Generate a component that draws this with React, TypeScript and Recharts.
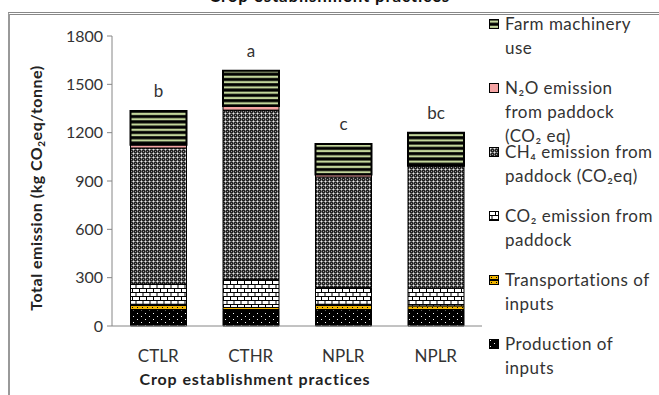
import { BarChart, Bar, XAxis, YAxis, LabelList } from 'recharts'

const CATEGORIES = ['CTLR', 'CTHR', 'NPLR', 'NPLR']
const PRODUCTION = [100, 95, 100, 100]
const TRANSPORT = [35, 20, 35, 25]
const CO2_PADDOCK = [125, 175, 105, 110]
const CH4_PADDOCK = [845, 1050, 685, 760]
const N2O_PADDOCK = [20, 25, 15, 0]
const MACHINERY = [210, 220, 190, 205]
const LETTERS = ['b', 'a', 'c', 'bc']
const Y_TICKS = [0, 300, 600, 900, 1200, 1500, 1800]

const data = CATEGORIES.map((c, i) => ({
  name: c,
  production: PRODUCTION[i],
  transport: TRANSPORT[i],
  co2: CO2_PADDOCK[i],
  ch4: CH4_PADDOCK[i],
  n2o: N2O_PADDOCK[i],
  machinery: MACHINERY[i],
  sig: LETTERS[i],
}))

// legend, top to bottom
const LEGEND = [
  { fill: 'url(#patFarm)', text: 'Farm machinery\nuse' },
  { fill: '#F4A3A3', text: 'N₂O emission\nfrom paddock\n(CO₂ eq)' },
  { fill: 'url(#patCh4)', text: 'CH₄ emission from\npaddock (CO₂eq)' },
  { fill: 'url(#patCo2)', text: 'CO₂ emission from\npaddock' },
  { fill: 'url(#patTrans)', text: 'Transportations of\ninputs' },
  { fill: 'url(#patProd)', text: 'Production of\ninputs' },
]

const FONT = 'Lato, "Open Sans", sans-serif'

const Patterns = () => (
  <svg width={0} height={0} style={{ position: 'absolute' }}>
    <defs>
      <pattern id="patProd" width={8} height={6} patternUnits="userSpaceOnUse">
        <rect width={8} height={6} fill="#000" />
        <rect x={1} y={1} width={1} height={1} fill="#fff" />
        <rect x={5} y={4} width={1} height={1} fill="#fff" />
      </pattern>
      <pattern id="patTrans" width={5} height={5} patternUnits="userSpaceOnUse">
        <rect width={5} height={5} fill="#000" />
        <rect x={0} y={1} width={5} height={3} fill="#F0B400" />
        <rect x={2} y={2} width={1} height={1} fill="#000" />
      </pattern>
      <pattern id="patCo2" width={14} height={8} patternUnits="userSpaceOnUse">
        <rect width={14} height={8} fill="#000" />
        <rect x={0} y={1} width={6} height={3} fill="#fff" />
        <rect x={7} y={1} width={6} height={3} fill="#fff" />
        <rect x={0} y={5} width={2.5} height={3} fill="#fff" />
        <rect x={3.5} y={5} width={6} height={3} fill="#fff" />
        <rect x={10.5} y={5} width={3.5} height={3} fill="#fff" />
      </pattern>
      <pattern id="patCh4" width={4} height={4} patternUnits="userSpaceOnUse">
        <rect width={4} height={4} fill="#222" />
        <rect x={1} y={0} width={1} height={3} fill="#9a9a9a" />
        <rect x={0} y={1} width={3} height={1} fill="#9a9a9a" />
        <rect x={1} y={1} width={1} height={1} fill="#ececec" />
        <rect x={3} y={3} width={1} height={1} fill="#9a9a9a" />
        <rect x={3} y={1} width={1} height={1} fill="#555" />
        <rect x={1} y={3} width={1} height={1} fill="#555" />
      </pattern>
      <pattern id="patFarm" width={4} height={5.3} patternUnits="userSpaceOnUse">
        <rect width={4} height={5.3} fill="#000" />
        <rect x={0} y={1.5} width={4} height={2.2} fill="#C3D69B" />
      </pattern>
    </defs>
  </svg>
)

const YLabel = () => {
  const cx = 38
  const cy = 188
  return (
    <text x={cx} y={cy} transform={`rotate(-90 ${cx} ${cy})`} textAnchor="middle"
      dominantBaseline="middle" fontFamily={FONT} fontSize={16} fontWeight={700} fill="#222"
      letterSpacing={0.5}>
      Total emission (kg CO<tspan fontSize={10} dy={4}>2</tspan><tspan dy={-4}>eq/tonne)</tspan>
    </text>
  )
}

export default function App() {
  return (
    <div style={{ position: 'fixed', left: 0, top: 0, width: 659, height: 395, overflow: 'hidden',
      background: '#fff', fontFamily: FONT }}>
      <Patterns />
      {/* clipped caption from the figure above */}
      <div style={{ position: 'absolute', top: -15, left: 0, width: 659, textAlign: 'center',
        fontSize: 17, fontWeight: 700, color: '#111', letterSpacing: 0.8 }}>Crop establishment practices</div>
      {/* frame */}
      <div style={{ position: 'absolute', left: 8, top: 12, width: 700, height: 500,
        borderTop: '3px double #888', borderLeft: '2px solid #999' }} />
      <div style={{ position: 'absolute', left: 0, top: 0 }}>
        <BarChart width={659} height={395} data={data}
          margin={{ top: 36, right: 177, bottom: 39, left: 72 }} barCategoryGap="20%">
          <XAxis dataKey="name" height={30} axisLine={{ stroke: '#868686' }} tickLine={false}
            tick={{ fontSize: 17, fill: '#333', fontFamily: FONT }} tickMargin={18} />
          <YAxis width={40} domain={[0, 1800]} ticks={Y_TICKS} interval={0}
            axisLine={{ stroke: '#868686' }} tickLine={{ stroke: '#868686' }} tickSize={5}
            tick={{ fontSize: 16, fill: '#333', fontFamily: FONT }} tickMargin={4}
            label={<YLabel />} />
          <Bar dataKey="production" stackId="s" fill="url(#patProd)" stroke="#000" strokeWidth={1} isAnimationActive={false} />
          <Bar dataKey="transport" stackId="s" fill="url(#patTrans)" stroke="#000" strokeWidth={1} isAnimationActive={false} />
          <Bar dataKey="co2" stackId="s" fill="url(#patCo2)" stroke="#000" strokeWidth={1} isAnimationActive={false} />
          <Bar dataKey="ch4" stackId="s" fill="url(#patCh4)" stroke="#000" strokeWidth={1} isAnimationActive={false} />
          <Bar dataKey="n2o" stackId="s" fill="#F4A3A3" stroke="#000" strokeWidth={1} isAnimationActive={false} />
          <Bar dataKey="machinery" stackId="s" fill="url(#patFarm)" stroke="#000" strokeWidth={2} isAnimationActive={false}>
            <LabelList dataKey="sig" position="top" offset={14}
              style={{ fontSize: 17, fill: '#333', fontFamily: FONT }} />
          </Bar>
        </BarChart>
      </div>
      <div style={{ position: 'absolute', left: 105, top: 369, width: 300, textAlign: 'center',
        fontSize: 16, fontWeight: 700, color: '#222', letterSpacing: 0.9 }}>Crop establishment practices</div>
      {LEGEND.map((item, i) => (
        <div key={i} style={{ position: 'absolute', left: 489, top: 12 + i * 64, display: 'flex',
          alignItems: 'flex-start', whiteSpace: 'pre', fontSize: 17, lineHeight: '24px', color: '#333',
          letterSpacing: 0.5 }}>
          <svg width={10} height={10} style={{ marginTop: 7, marginRight: 6, flex: 'none' }}>
            <rect x={0.5} y={0.5} width={9} height={9} fill={item.fill} stroke="#000" strokeWidth={1} />
          </svg>
          <span>{item.text}</span>
        </div>
      ))}
    </div>
  )
}
